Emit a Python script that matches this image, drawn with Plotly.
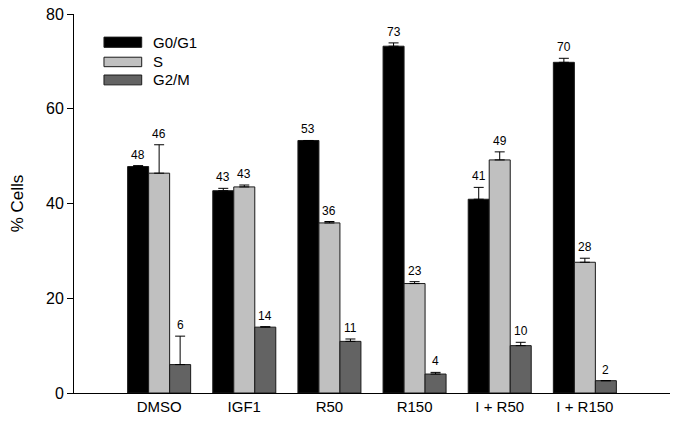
import plotly.graph_objects as go

categories = ["DMSO", "IGF1", "R50", "R150", "I + R50", "I + R150"]
series_names = ["G0/G1", "S", "G2/M"]
g0g1 = [47.8, 42.7, 53.3, 73.2, 40.9, 69.8]
s_phase = [46.4, 43.5, 35.9, 23.1, 49.2, 27.6]
g2m = [6.0, 13.9, 10.9, 4.0, 10.0, 2.6]
g0g1_err = [0.2, 0.5, 0.0, 0.7, 2.5, 0.85]
s_err = [6.0, 0.4, 0.3, 0.4, 1.7, 0.85]
g2m_err = [6.0, 0.1, 0.5, 0.35, 0.7, 0.0]
g0g1_labels = ["48", "43", "53", "73", "41", "70"]
s_labels = ["46", "43", "36", "23", "49", "28"]
g2m_labels = ["6", "14", "11", "4", "10", "2"]
y_ticks = [0, 20, 40, 60, 80]

colors = ["#000000", "#c0c0c0", "#636363"]
values = [g0g1, s_phase, g2m]
errors = [g0g1_err, s_err, g2m_err]
labels = [g0g1_labels, s_labels, g2m_labels]

FONT = "Liberation Sans, Arial, sans-serif"
bargap = 0.26
bar_w = (1 - bargap) / 3

fig = go.Figure()
for name, vals, errs, col in zip(series_names, values, errors, colors):
    fig.add_trace(go.Bar(
        name=name, x=categories, y=vals,
        marker=dict(color=col, line=dict(color="#1a1a1a", width=1)),
        error_y=dict(type="data", array=errs, arrayminus=[0] * len(errs),
                     symmetric=False, color="#000000", thickness=1, width=5),
        showlegend=False,
    ))

annotations = []
for k, (vals, errs, labs) in enumerate(zip(values, errors, labels)):
    off = (k - 1) * bar_w
    for i, (v, e, t) in enumerate(zip(vals, errs, labs)):
        annotations.append(dict(
            x=i + off, y=v + e, xref="x", yref="y", text=t, showarrow=False,
            yanchor="bottom", yshift=2, font=dict(size=12, color="#000000", family=FONT)))

# custom legend with wide swatches
shapes = []
leg_rows = [(0.912, 0.939, 0.926), (0.861, 0.886, 0.874), (0.813, 0.839, 0.826)]
for (y0, y1, yc), name, col in zip(leg_rows, series_names, colors):
    shapes.append(dict(type="rect", xref="paper", yref="paper", x0=0.0503, x1=0.1136,
                       y0=y0, y1=y1, fillcolor=col, line=dict(color="#1a1a1a", width=1)))
    annotations.append(dict(x=0.129, y=yc, xref="paper", yref="paper", text=name,
                            showarrow=False, xanchor="left", yanchor="middle",
                            font=dict(size=15, color="#000000", family=FONT)))

fig.update_layout(
    width=685, height=426,
    margin=dict(l=74, r=15, t=14, b=33, autoexpand=False),
    paper_bgcolor="white", plot_bgcolor="white",
    barmode="group", bargap=bargap, bargroupgap=0,
    font=dict(family=FONT, color="#000000", size=15),
    annotations=annotations, shapes=shapes,
    xaxis=dict(range=[-1, 6], showline=True, linecolor="#000000", linewidth=1,
               ticks="", showgrid=False, zeroline=False, automargin=False,
               tickfont=dict(size=15, family=FONT)),
    yaxis=dict(range=[0, 80], tickvals=y_ticks, showline=True, linecolor="#000000",
               linewidth=1, ticks="outside", ticklen=6, tickcolor="#000000",
               showgrid=False, zeroline=False, automargin=False,
               ticklabeloverflow="allow",
               title=dict(text="% Cells", font=dict(size=17, family=FONT), standoff=18),
               tickfont=dict(size=16, family=FONT)),
)

# remove the default 8px page margin so the figure sits at the window origin
fig.write_html("out.html", config={"displayModeBar": False},
               post_script="document.body.style.margin='0';")
